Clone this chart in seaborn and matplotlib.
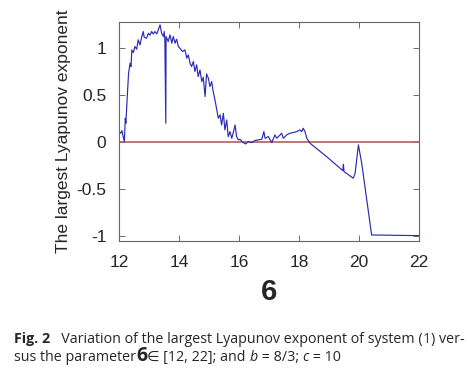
import numpy as np
import pandas as pd
import seaborn as sns
import matplotlib
matplotlib.use("Agg")
import matplotlib.pyplot as plt

sigma = [12.00, 12.06, 12.10, 12.14, 12.18, 12.21, 12.23, 12.27, 12.32, 12.37,
         12.40, 12.43, 12.48, 12.53, 12.59, 12.64, 12.70, 12.76, 12.81, 12.84,
         12.92, 12.98, 13.03, 13.09, 13.14, 13.20, 13.26, 13.31, 13.37, 13.42,
         13.48, 13.51, 13.53, 13.56, 13.57, 13.64, 13.70, 13.76, 13.81, 13.87,
         13.92, 13.98, 14.03, 14.12, 14.20, 14.26, 14.31, 14.37, 14.42, 14.48,
         14.53, 14.59, 14.64, 14.70, 14.76, 14.81, 14.87, 14.92, 14.98, 15.03,
         15.09, 15.14, 15.20, 15.26, 15.31, 15.37, 15.42, 15.48, 15.53, 15.59,
         15.64, 15.70, 15.76, 15.81, 15.87, 15.92, 15.98, 16.03, 16.14, 16.22,
         16.31, 16.42, 16.53, 16.64, 16.76, 16.83, 16.87, 16.98, 17.09, 17.20,
         17.26, 17.37, 17.42, 17.48, 17.59, 17.70, 17.81, 17.92, 18.03, 18.09,
         18.14, 18.20, 18.26, 18.37, 18.92, 19.46, 19.48, 19.50, 19.81, 19.87,
         19.98, 20.09, 20.42, 22.00]
lyap = [0.106, 0.089, 0.117, 0.053, 0.000, 0.248, 0.195, 0.443, 0.727, 0.833,
        0.798, 0.975, 0.947, 1.011, 0.982, 1.082, 1.028, 1.117, 1.170, 1.110,
        1.099, 1.152, 1.131, 1.170, 1.145, 1.170, 1.145, 1.188, 1.241, 1.152,
        1.117, 1.170, 1.064, 0.195, 1.117, 1.064, 1.135, 1.046, 1.117, 1.046,
        1.089, 1.011, 0.993, 0.957, 0.975, 0.887, 0.922, 0.833, 0.798, 0.851,
        0.745, 0.816, 0.691, 0.762, 0.638, 0.684, 0.479, 0.720, 0.674, 0.585,
        0.638, 0.532, 0.443, 0.337, 0.248, 0.284, 0.177, 0.301, 0.124, 0.230,
        0.053, 0.106, 0.035, 0.096, 0.177, 0.053, 0.018, 0.025, -0.011, -0.025,
        0.000, -0.011, 0.011, 0.018, 0.025, 0.106, 0.035, 0.053, -0.011, 0.071,
        0.035, 0.071, 0.089, 0.035, 0.071, 0.089, 0.096, 0.106, 0.124, 0.106,
        0.142, 0.106, 0.035, -0.018, -0.160, -0.309, -0.241, -0.319, -0.390, -0.337,
        -0.035, -0.230, -0.993, -1.000]

xticks = [12, 14, 16, 18, 20, 22]
yticks = [-1, -0.5, 0, 0.5, 1]
ytick_labels = ["-1", "-0.5", "0", "0.5", "1"]

sns.set_style("ticks")
plt.rcParams["font.family"] = ["Liberation Sans", "DejaVu Sans"]

df = pd.DataFrame({"sigma": sigma, "lyap": lyap})

fig = plt.figure(figsize=(4.74, 3.77), dpi=100)
ax = fig.add_axes([0.251, 0.361, 0.633, 0.581])

ax.axhline(0, color="#b06060", lw=1.2, zorder=1)
sns.lineplot(data=df, x="sigma", y="lyap", estimator=None, sort=False,
             color="#2b2bb5", lw=0.85, ax=ax, zorder=2)

ax.set_xlim(12, 22)
ax.set_ylim(-1.056, 1.273)
ax.set_xticks(xticks)
ax.set_yticks(yticks)
ax.set_yticklabels(ytick_labels)
ax.tick_params(direction="in", top=True, right=True, length=4, width=0.6,
               color="#555555", labelsize=12.5)
ax.tick_params(axis="x", pad=10)
ax.tick_params(axis="y", pad=9)
for s in ax.spines.values():
    s.set_color("#666666")
    s.set_linewidth(0.8)

ax.set_xlabel("6", fontsize=21, fontweight="bold", labelpad=6)
ax.set_ylabel("The largest Lyapunov exponent", fontsize=12.5, labelpad=4)

# caption, drawn as runs of text
cap_font = ["Open Sans", "DejaVu Sans"]
renderer = fig.canvas.get_renderer()
W = fig.get_figwidth() * fig.dpi


def runs(x0, y0, parts, size):
    x = x0
    for txt, kw in parts:
        opts = dict(fontsize=size, family=cap_font, va="baseline")
        opts.update(kw)
        t = fig.text(x, y0, txt, **opts)
        x += t.get_window_extent(renderer).width / W
    return x


blue = "#3030c0"
runs(0.03, 0.09, [
    ("Fig. 2", dict(fontweight="bold")),
    ("   Variation of the largest Lyapunov exponent of system (", {}),
    ("1", dict(color=blue)),
    (") ver-", {}),
], 10.3)
runs(0.03, 0.042, [
    ("sus the parameter", {}),
    ("6", dict(fontweight="bold", fontsize=14)),
    ("\u2208 [12, 22]; and ", {}),
    ("b", dict(style="italic")),
    (" = 8/3; ", {}),
    ("c", dict(style="italic")),
    (" = 10", {}),
], 10.3)

fig.savefig("out.png", dpi=100)
